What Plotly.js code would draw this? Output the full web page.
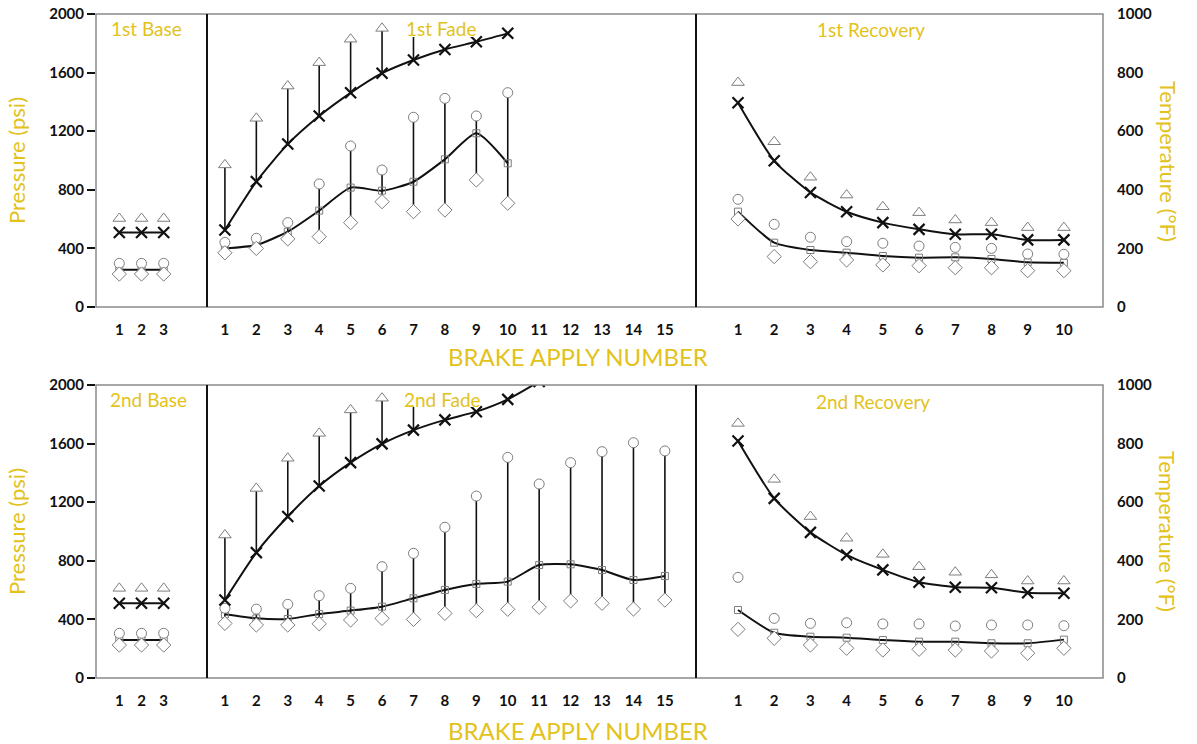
<!DOCTYPE html>
<html>
<head>
<meta charset="utf-8">
<script src="https://cdn.plot.ly/plotly-3.0.1.min.js"></script>
<style>html,body{margin:0;padding:0;background:#fff;}#chart{width:1197px;height:744px;}</style>
</head>
<body>
<div id="chart"></div>
<script>
// ---------------- DATA ----------------
const baseX = [1, 2, 3];
const fadeX = [1, 2, 3, 4, 5, 6, 7, 8, 9, 10, 11, 12, 13, 14, 15];
const recX  = [1, 2, 3, 4, 5, 6, 7, 8, 9, 10];

// 1st test — temperature (°F) and pressure (psi)
const base1MaxT = [302, 302, 302];
const base1AvgT = [254, 254, 254];
const base1MaxP = [298, 298, 298];
const base1AvgP = [255, 255, 255];
const base1MinP = [225, 225, 225];

const fade1MaxT = [485, 644, 754, 834, 914, 951, 952, null, null, null];
const fade1AvgT = [263, 428, 556, 652, 731, 798, 843, 879, 905, 934];
const fade1MaxP = [441, 469, 576, 840, 1099, 935, 1295, 1424, 1304, 1463];
const fade1AvgP = [400, 423, 514, 658, 815, 794, 855, 1008, 1186, 981];
const fade1MinP = [370, 400, 465, 480, 576, 719, 651, 662, 867, 708];

const rec1MaxT = [766, 564, 443, 382, 342, 322, 297, 288, 271, 271];
const rec1AvgT = [697, 499, 391, 325, 288, 265, 248, 248, 229, 229];
const rec1MaxP = [735, 564, 476, 446, 435, 416, 407, 400, 362, 360];
const rec1AvgP = [651, 439, 389, 371, 348, 337, 339, 328, 305, 302];
const rec1MinP = [601, 344, 309, 321, 287, 282, 268, 268, 248, 248];

// 2nd test
const base2MaxT = [306, 306, 306];
const base2AvgT = [255, 255, 255];
const base2MaxP = [305, 305, 305];
const base2AvgP = [259, 259, 259];
const base2MinP = [225, 225, 225];

const fade2MaxT = [488, 647, 750, 835, 915, 955, 956, null, null, null, null];
const fade2AvgT = [266, 428, 551, 655, 735, 799, 846, 881, 909, 951, 1012];
const fade2MaxP = [476, 470, 503, 562, 612, 760, 851, 1029, 1242, 1506, 1324, 1470, 1545, 1606, 1550];
const fade2AvgP = [435, 407, 403, 437, 460, 487, 544, 601, 642, 658, 771, 776, 737, 669, 696];
const fade2MinP = [373, 362, 362, 370, 396, 407, 400, 441, 460, 469, 483, 526, 510, 471, 532];

const rec2MaxT = [869, 678, 551, 477, 422, 380, 361, 352, 331, 331];
const rec2AvgT = [809, 613, 497, 420, 369, 327, 310, 308, 291, 289];
const rec2MaxP = [687, 407, 373, 377, 369, 369, 355, 362, 362, 357];
const rec2AvgP = [464, 309, 282, 275, 259, 248, 248, 237, 237, 262];
const rec2MinP = [332, 271, 225, 203, 191, 196, 191, 184, 169, 203];

const pressureTicks = [0, 400, 800, 1200, 1600, 2000];
const tempTicks = [0, 200, 400, 600, 800, 1000];
const sectionLabels = ["1st Base", "1st Fade", "1st Recovery", "2nd Base", "2nd Fade", "2nd Recovery"];
const xTitle = "BRAKE APPLY NUMBER";
const pTitle = "Pressure (psi)";
const tTitle = "Temperature (°F)";

// ---------------- STYLE / LAYOUT ----------------
const GOLD = '#E3C21C';
const FONT = 'Lato, "Open Sans", sans-serif';
const L = 96, R = 1103, T = 14, B = 678;
const W = R - L, H = B - T;
const px = x => (x - L) / W;
const py = y => (B - y) / H;
const d1 = px(207), d2 = px(696);
const topDom = [py(307), 1], botDom = [0, py(385)];

const GREY = '#7d7d7d';
const mk = {
  circle:  {symbol: 'circle', size: 10, color: 'white', line: {color: GREY, width: 1}},
  diamond: {symbol: 'diamond', size: 11, color: 'white', line: {color: GREY, width: 1}},
  square:  {symbol: 'square-open', size: 7, color: GREY, line: {color: GREY, width: 1}},
  tri:     {symbol: 'triangle-up', size: 11, color: 'white', line: {color: GREY, width: 1}},
  x:       {symbol: 'x-thin-open', size: 11, color: '#111', line: {color: '#111', width: 2.2}}
};
const LINE = {color: '#111', width: 2, shape: 'spline', smoothing: 0.6};

function sub(arrA, arrB) { return arrA.map((v, i) => (v == null || arrB[i] == null) ? 0 : v - arrB[i]); }

const traces = [];
function section(xs, maxT, avgT, maxP, avgP, minP, xa, ya, ya2, bars) {
  const xp = xs.slice(0, avgP.length);
  const xt = xs.slice(0, avgT.length);
  const pAvg = {x: xp, y: avgP, xaxis: xa, yaxis: ya, mode: 'lines+markers', marker: mk.square, line: LINE};
  if (bars) pAvg.error_y = {type: 'data', symmetric: false, array: sub(maxP, avgP), arrayminus: sub(avgP, minP), color: '#111', thickness: 1.6, width: 0};
  traces.push(pAvg);
  traces.push({x: xp, y: maxP, xaxis: xa, yaxis: ya, mode: 'markers', marker: mk.circle});
  traces.push({x: xp, y: minP, xaxis: xa, yaxis: ya, mode: 'markers', marker: mk.diamond});
  const tAvg = {x: xt, y: avgT, xaxis: xa, yaxis: ya2, mode: 'lines+markers', marker: mk.x, line: LINE};
  if (bars) tAvg.error_y = {type: 'data', symmetric: false, array: sub(maxT, avgT), arrayminus: avgT.map(() => 0), color: '#111', thickness: 1.6, width: 0};
  traces.push(tAvg);
  traces.push({x: xs.slice(0, maxT.length), y: maxT, xaxis: xa, yaxis: ya2, mode: 'markers', marker: mk.tri});
}
section(baseX, base1MaxT, base1AvgT, base1MaxP, base1AvgP, base1MinP, 'x', 'y', 'y2', false);
section(fadeX, fade1MaxT, fade1AvgT, fade1MaxP, fade1AvgP, fade1MinP, 'x2', 'y', 'y2', true);
section(recX, rec1MaxT, rec1AvgT, rec1MaxP, rec1AvgP, rec1MinP, 'x3', 'y', 'y2', false);
section(baseX, base2MaxT, base2AvgT, base2MaxP, base2AvgP, base2MinP, 'x4', 'y3', 'y4', false);
section(fadeX, fade2MaxT, fade2AvgT, fade2MaxP, fade2AvgP, fade2MinP, 'x5', 'y3', 'y4', true);
section(recX, rec2MaxT, rec2AvgT, rec2MaxP, rec2AvgP, rec2MinP, 'x6', 'y3', 'y4', false);

const tickFont = {family: FONT, size: 15, color: '#111', weight: 700};
function xAx(dom, rng, vals, anchor) {
  return {domain: dom, range: rng, anchor: anchor, tickvals: vals, ticktext: vals.map(String),
    showgrid: false, zeroline: false, showline: false, ticks: '', tickfont: tickFont,
    ticklabelstandoff: 12, fixedrange: true};
}
function yAx(dom, anchor) {
  return {domain: dom, anchor: anchor, range: [0, 2000], tickvals: pressureTicks, ticktext: pressureTicks.map(String),
    showgrid: false, zeroline: false, showline: false, ticks: 'outside', ticklen: 8, tickwidth: 2, tickcolor: '#111',
    tickfont: tickFont, title: {text: pTitle, font: {family: FONT, size: 22, color: GOLD}, standoff: 17}};
}
function y2Ax(over, anchor) {
  return {overlaying: over, side: 'right', anchor: anchor, range: [0, 1000], tickvals: tempTicks, ticktext: tempTicks.map(String),
    showgrid: false, zeroline: false, showline: false, ticks: '', tickfont: tickFont, ticklabelstandoff: 13};
}
const baseR = [-0.05, 4.95], fadeR = [0.43, 15.99], recR = [-0.16, 11.08];

const shapes = [];
[topDom, botDom].forEach(dom => {
  shapes.push({type: 'rect', xref: 'paper', yref: 'paper', x0: 0, x1: 1, y0: dom[0], y1: dom[1], line: {color: '#8a8a8a', width: 1.5}});
  [d1, d2].forEach(d => shapes.push({type: 'line', xref: 'paper', yref: 'paper', x0: d, x1: d, y0: dom[0], y1: dom[1], line: {color: '#111', width: 2}}));
});
// white knock-out under the Fade labels (as in the print)
[[404, 478, 20, 37], [403, 480, 391, 407]].forEach(b => shapes.push({
  type: 'rect', xref: 'paper', yref: 'paper', layer: 'above', x0: px(b[0]), x1: px(b[1]), y0: py(b[3]), y1: py(b[2]),
  fillcolor: 'white', line: {width: 0}
}));

const secFont = {family: FONT, size: 19, color: GOLD};
const secPos = [[146, 28], [441, 28], [871, 30], [148, 399], [442, 399], [873, 402]];
const annotations = sectionLabels.map((t, i) => ({
  text: t, xref: 'paper', yref: 'paper', x: px(secPos[i][0]), y: py(secPos[i][1]),
  showarrow: false, font: secFont, xanchor: 'center', yanchor: 'middle'
}));
[[578, 356], [578, 731]].forEach(p => annotations.push({
  text: xTitle, xref: 'paper', yref: 'paper', x: px(p[0]), y: py(p[1]), showarrow: false,
  font: {family: FONT, size: 24, color: GOLD}, xanchor: 'center', yanchor: 'middle'
}));
[[1168, 161], [1168, 531]].forEach(p => annotations.push({
  text: tTitle, xref: 'paper', yref: 'paper', x: px(p[0]), y: py(p[1]), showarrow: false, textangle: 90,
  font: {family: FONT, size: 22, color: GOLD}, xanchor: 'center', yanchor: 'middle'
}));

const layout = {
  width: 1197, height: 744, autosize: false,
  margin: {l: L, r: 1197 - R, t: T, b: 744 - B},
  paper_bgcolor: 'white', plot_bgcolor: 'rgba(0,0,0,0)',
  showlegend: false, hovermode: false,
  font: {family: FONT},
  xaxis:  xAx([0, d1], baseR, baseX, 'y'),
  xaxis2: xAx([d1, d2], fadeR, fadeX, 'y'),
  xaxis3: xAx([d2, 1], recR, recX, 'y'),
  xaxis4: xAx([0, d1], baseR, baseX, 'y3'),
  xaxis5: xAx([d1, d2], fadeR, fadeX, 'y3'),
  xaxis6: xAx([d2, 1], recR, recX, 'y3'),
  yaxis:  yAx(topDom, 'x'),
  yaxis2: y2Ax('y', 'x3'),
  yaxis3: yAx(botDom, 'x4'),
  yaxis4: y2Ax('y3', 'x6'),
  shapes: shapes,
  annotations: annotations
};

Plotly.newPlot('chart', traces, layout, {staticPlot: true, displayModeBar: false});
</script>
</body>
</html>
